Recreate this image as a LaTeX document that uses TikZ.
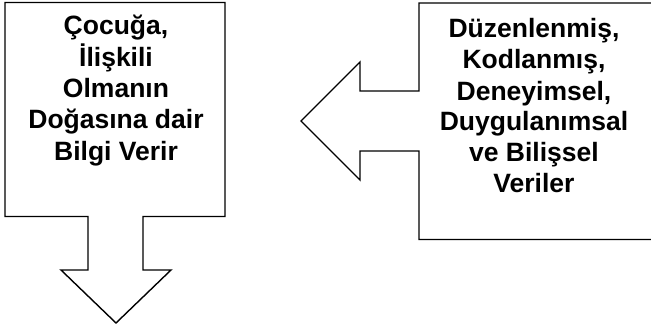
\documentclass[tikz,border=0pt]{standalone}
\usepackage{fontspec}
\setmainfont{Liberation Sans}
\begin{document}
\begin{tikzpicture}[x=1pt,y=-1pt,
  shapeline/.style={draw=black,line width=1.4pt,line join=miter,fill=white},
  txt/.style={anchor=base,inner sep=0pt,font=\fontsize{26.5}{30}\selectfont\bfseries}]
\clip (0,0) rectangle (651,329);
\fill[white] (0,0) rectangle (651,329);
% left box with down arrow
\draw[shapeline] (5,2.5) -- (225,2.5) -- (225,216.5) -- (143,216.5) -- (143,270) -- (171,270)
  -- (116,323) -- (61,270) -- (88,270) -- (88,216.5) -- (5,216.5) -- cycle;
% right box with left arrow
\draw[shapeline] (660,3) -- (419,3) -- (419,91) -- (360,91) -- (360,62) -- (301,121)
  -- (360,180) -- (360,151) -- (419,151) -- (419,239.5) -- (660,239.5);
\node[txt] (l1) at (116,35) {Çocuğa,};
\node[txt] (l2) at (116,66.3) {İlişkili};
\node[txt] (l3) at (116,97.5) {Olmanın};
\node[txt] (l4) at (116,128.8) {Doğasına dair};
\node[txt] (l5) at (116,160) {Bilgi Verir};
\node[txt] (r1) at (534,38) {Düzenlenmiş,};
\node[txt] (r2) at (534,69) {Kodlanmış,};
\node[txt] (r3) at (534,100) {Deneyimsel,};
\node[txt] (r4) at (534,130.5) {Duygulanımsal};
\node[txt] (r5) at (534,161.5) {ve Bilişsel};
\node[txt] (r6) at (534,192.5) {Veriler};
\end{tikzpicture}
\end{document}
